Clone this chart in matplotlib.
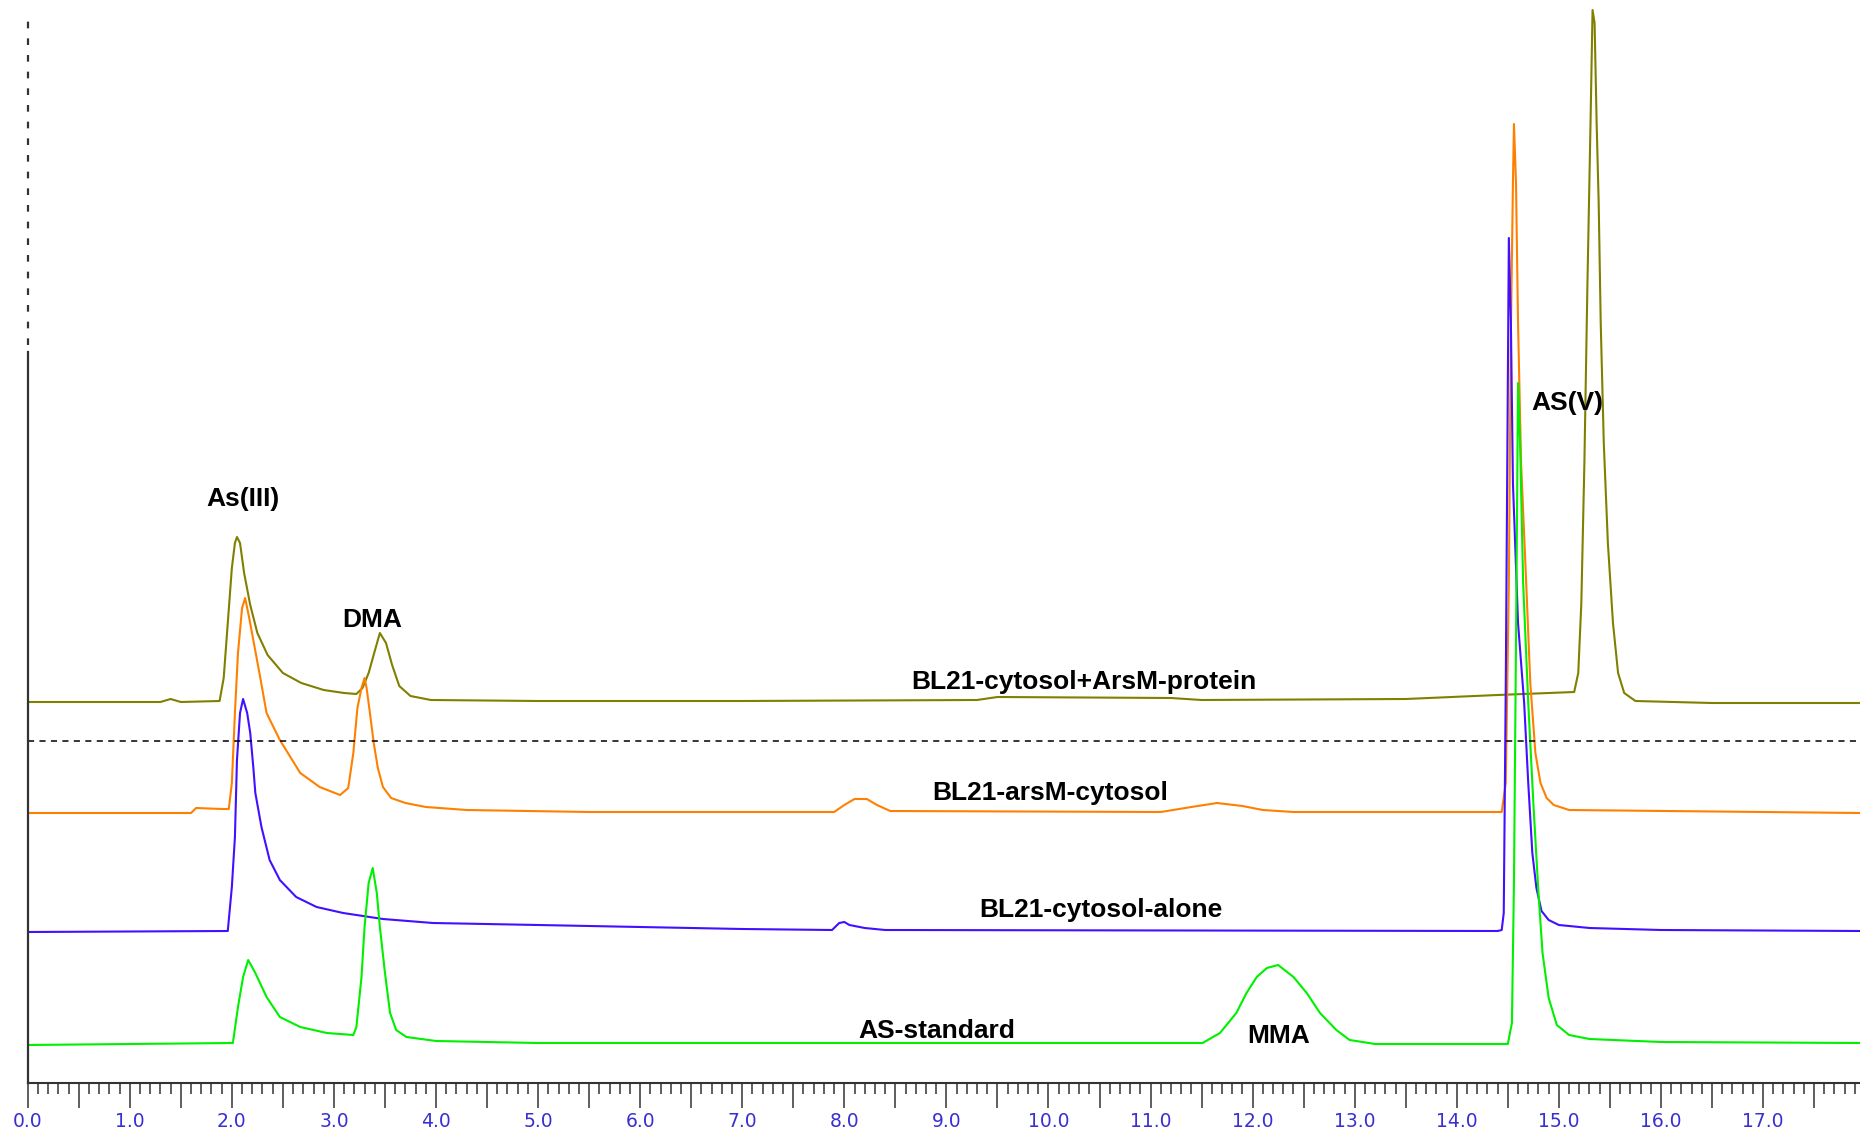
import matplotlib.pyplot as plt
from matplotlib.ticker import MultipleLocator, FuncFormatter

# ── Traces (time in min, signal in arbitrary units) ──
protein_t = [0.0, 1.30, 1.40, 1.50, 1.88, 1.92, 1.96, 2.00, 2.03, 2.05, 2.08, 2.12, 2.18,
             2.25, 2.35, 2.50, 2.68, 2.90, 3.10, 3.22, 3.28, 3.34, 3.40, 3.45, 3.51, 3.57,
             3.64, 3.75, 3.95, 5.0, 7.0, 9.3, 9.5, 11.2, 11.5, 13.5, 14.4, 15.15, 15.19,
             15.22, 15.25, 15.28, 15.31, 15.33, 15.35, 15.37, 15.39, 15.41, 15.44, 15.48,
             15.53, 15.58, 15.64, 15.75, 16.5, 17.95]
protein_y = [381, 381, 384, 381, 382, 405, 460, 515, 540, 546, 540, 510, 478,
             450, 428, 410, 400, 393, 390, 389, 395, 410, 432, 450, 440, 418,
             397, 387, 383, 382, 382, 383, 386, 385, 383, 384, 388, 391, 410,
             480, 620, 800, 960, 1073, 1060, 960, 880, 760, 640, 540,
             460, 410, 390, 382, 380, 380]

arsm_t = [0.0, 1.60, 1.65, 1.90, 1.97, 2.00, 2.03, 2.06, 2.10, 2.13, 2.17, 2.21, 2.27,
          2.34, 2.47, 2.67, 2.86, 3.06, 3.14, 3.19, 3.23, 3.27, 3.30, 3.32, 3.35, 3.39,
          3.43, 3.48, 3.56, 3.70, 3.90, 4.3, 5.5, 7.90, 8.00, 8.10, 8.22, 8.32, 8.45,
          11.10, 11.40, 11.65, 11.90, 12.10, 12.40, 14.44, 14.48, 14.51, 14.53, 14.55,
          14.56, 14.58, 14.60, 14.63, 14.68, 14.72, 14.77, 14.82, 14.88, 14.95, 15.10, 17.95]
arsm_y = [270, 270, 275, 274, 274, 300, 370, 430, 475, 485, 465, 443, 410,
          370, 343, 310, 296, 288, 295, 330, 375, 395, 405, 395, 372, 340,
          315, 296, 285, 280, 276, 273, 271, 271, 278, 284, 284, 278, 272,
          271, 276, 280, 277, 273, 271, 271, 300, 500, 750, 900,
          959, 900, 760, 620, 500, 400, 330, 300, 285, 278, 273, 270]

alone_t = [0.0, 1.96, 2.00, 2.03, 2.05, 2.08, 2.11, 2.15, 2.18, 2.21, 2.23, 2.29, 2.37,
           2.47, 2.63, 2.83, 3.09, 3.48, 3.97, 5.0, 6.0, 7.0, 7.88, 7.95, 8.00, 8.05,
           8.20, 8.40, 14.40, 14.44, 14.46, 14.48, 14.50, 14.51, 14.53, 14.55, 14.60,
           14.66, 14.70, 14.74, 14.78, 14.83, 14.90, 15.00, 15.30, 16.0, 17.95]
alone_y = [151, 152, 196, 246, 323, 370, 384, 370, 350, 316, 290, 256, 223,
           203, 186, 176, 170, 164, 160, 158, 156, 154, 153, 160, 161, 158,
           155, 153, 152, 153, 170, 400, 700, 845, 760, 600, 460,
           380, 300, 230, 195, 172, 163, 158, 155, 153, 152]

standard_t = [0.0, 2.01, 2.06, 2.11, 2.16, 2.23, 2.34, 2.47, 2.67, 2.93, 3.19, 3.22, 3.27,
              3.30, 3.34, 3.38, 3.42, 3.45, 3.50, 3.55, 3.61, 3.71, 4.0, 5.0, 11.51, 11.68,
              11.84, 11.94, 12.04, 12.14, 12.25, 12.40, 12.53, 12.66, 12.82, 12.95, 13.20,
              14.50, 14.54, 14.56, 14.58, 14.60, 14.62, 14.65, 14.70, 14.75, 14.80, 14.84,
              14.90, 14.98, 15.10, 15.30, 16.0, 17.95]
standard_y = [38, 40, 76, 106, 123, 110, 86, 66, 56, 50, 48, 56, 106,
              156, 200, 215, 190, 156, 110, 70, 53, 46, 42, 40, 40, 50,
              70, 90, 106, 115, 118, 106, 90, 70, 53, 43, 39,
              39, 60, 200, 440, 700, 640, 500, 380, 280, 190, 130,
              85, 58, 48, 44, 41, 40]

tick_color = "#3a2fd0"

# ── Figure ──
fig = plt.figure(figsize=(18.6, 11.32), dpi=100)
ax = fig.add_axes([27.7 / 1860, 49 / 1132, 1 - 27.7 / 1860, 1083 / 1132])
ax.set_xlim(0, 17.95)
ax.set_ylim(0, 1083)

ax.plot(protein_t, protein_y, color="#808000", lw=1.5)
ax.plot(arsm_t, arsm_y, color="#ff8000", lw=1.5)
ax.plot(alone_t, alone_y, color="#4010ff", lw=1.5)
ax.plot(standard_t, standard_y, color="#00f000", lw=1.5)

# reference lines
ax.axhline(342, color="black", lw=1.1, ls=(0, (4, 3.5)))
ax.axvline(0, ymin=0, ymax=731 / 1083, color="#333333", lw=1.6, clip_on=False)
ax.axvline(0, ymin=738 / 1083, ymax=1068 / 1083, color="#333333", lw=1.6,
           ls=(0, (3, 4.5)), clip_on=False)

# labels
lab = dict(family="Liberation Sans", fontweight="bold", fontsize=19,
           ha="center", va="baseline", color="black")
ax.text(2.11, 577, "As(III)", **lab)
ax.text(3.37, 456, "DMA", **lab)
ax.text(15.08, 673, "AS(V)", **lab)
ax.text(12.25, 40, "MMA", **lab)
ax.text(10.35, 394, "BL21-cytosol+ArsM-protein", **lab)
ax.text(10.02, 283, "BL21-arsM-cytosol", **lab)
ax.text(10.51, 166, "BL21-cytosol-alone", **lab)
ax.text(8.91, 45, "AS-standard", **lab)

# axes styling
for s in ["top", "right", "left"]:
    ax.spines[s].set_visible(False)
ax.spines["bottom"].set_color("#333333")
ax.spines["bottom"].set_linewidth(1.5)
ax.set_yticks([])

ax.xaxis.set_major_locator(MultipleLocator(0.5))
ax.xaxis.set_minor_locator(MultipleLocator(0.1))
ax.xaxis.set_major_formatter(FuncFormatter(
    lambda v, p: f"{v:.1f}" if abs(v - round(v)) < 1e-6 else ""))
ax.tick_params(axis="x", which="major", length=18, width=1.1, color="#333333",
               pad=3, labelsize=13.5, labelcolor=tick_color)
ax.tick_params(axis="x", which="minor", length=8, width=1.1, color="#333333")
for t in ax.get_xticklabels():
    t.set_family("DejaVu Sans")

fig.savefig("out.png", dpi=100)
